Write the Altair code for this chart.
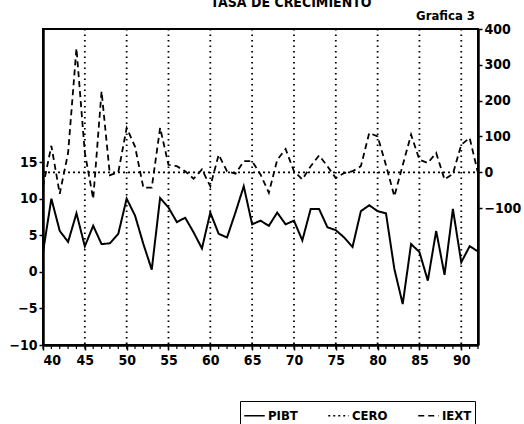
import altair as alt
import pandas as pd

years = list(range(40, 93))
pibt = [2.7, 10.0, 5.6, 4.1, 8.0, 3.5, 6.3, 3.8, 3.9, 5.2,
        10.0, 7.7, 3.8, 0.3, 10.1, 8.8, 6.8, 7.4, 5.4, 3.2,
        8.1, 5.2, 4.7, 8.1, 11.7, 6.5, 7.0, 6.3, 8.1, 6.5,
        7.0, 4.3, 8.6, 8.6, 6.1, 5.7, 4.7, 3.4, 8.3, 9.1,
        8.3, 8.0, 0.4, -4.4, 3.8, 2.7, -1.2, 5.6, -0.4, 8.6,
        1.3, 3.5, 2.8]
iext = [-40, 74, -60, 54, 346, 55, -74, 226, -8, 0,
        124, 72, -43, -43, 124, 21, 17, 3, -18, 8,
        -39, 49, 3, -4, 31, 31, -6, -57, 35, 65,
        3, -20, 17, 47, 17, -16, -2, 3, 17, 110,
        100, 20, -67, 20, 105, 35, 26, 54, -20, -4,
        77, 96, -2]
cero_years = [40, 92]
cero_vals = [0, 0]
grid_years = [45, 50, 55, 60, 65, 70, 75, 80, 85, 90]
x_labels = [40, 45, 50, 55, 60, 65, 70, 75, 80, 85, 90]
left_ticks = [-10, -5, 0, 5, 10, 15]
right_ticks = [-100, 0, 100, 200, 300, 400]
series = ["PIBT", "CERO", "IEXT"]
title_text = "TASA DE CRECIMIENTO"
subtitle_text = "Grafica 3"

FONT = "DejaVu Sans Condensed"

df_p = pd.DataFrame({"year": years, "value": pibt, "serie": "PIBT"})
df_r = pd.concat([
    pd.DataFrame({"year": years, "value": iext, "serie": "IEXT"}),
    pd.DataFrame({"year": cero_years, "value": cero_vals, "serie": "CERO"}),
])
df_grid = pd.DataFrame({"year": grid_years})
df_minor = pd.DataFrame({"year": years})

xscale = alt.Scale(domain=[40, 92], nice=False, zero=False)

xenc = alt.X(
    "year:Q",
    scale=xscale,
    axis=alt.Axis(values=x_labels, labelOverlap=False, tickSize=5, tickWidth=1.5,
                  tickColor="black", domainColor="black", domainWidth=2.5,
                  labelFontSize=14, labelFontWeight="bold", labelFont=FONT,
                  labelColor="black", labelPadding=3, grid=False),
    title=None,
)

dash = alt.StrokeDash(
    "serie:N",
    scale=alt.Scale(domain=series, range=[[1, 0], [2, 3], [6, 4]]),
    legend=alt.Legend(
        orient="none", legendX=197, legendY=372, direction="horizontal",
        title=None, strokeColor="black", padding=3, symbolType="stroke",
        symbolStrokeWidth=1.6, symbolStrokeColor="black", symbolSize=420,
        labelFontSize=13, labelFontWeight="bold", labelFont=FONT,
        labelColor="black", columnPadding=27, symbolOffset=0, labelOffset=2,
    ),
)

grid = alt.Chart(df_grid).mark_rule(
    color="black", strokeDash=[1.5, 4], strokeWidth=1.8
).encode(x=xenc)

minor = alt.Chart(df_minor).mark_rule(color="black", strokeWidth=1.2).encode(
    x=xenc,
    y=alt.value(317), y2=alt.value(320),
)

left_line = alt.Chart(df_p).mark_line(color="black", strokeWidth=2).encode(
    x=xenc,
    y=alt.Y("value:Q",
            scale=alt.Scale(domain=[-10, 33.2], nice=False, zero=False),
            axis=alt.Axis(values=left_ticks, orient="left", tickSize=4, tickWidth=1.5,
                          tickColor="black", domainColor="black", domainWidth=2.5,
                          labelFontSize=14, labelFontWeight="bold", labelFont=FONT,
                          labelColor="black", labelPadding=2, grid=False),
            title=None),
    strokeDash=dash,
)

right_line = alt.Chart(df_r).mark_line(color="black", strokeWidth=1.8).encode(
    x=xenc,
    y=alt.Y("value:Q",
            scale=alt.Scale(domain=[-482, 400], nice=False, zero=False),
            axis=alt.Axis(values=right_ticks, orient="right", tickSize=4, tickWidth=1.5,
                          tickColor="black", domainColor="black", domainWidth=2.5,
                          labelFontSize=14, labelFontWeight="bold", labelFont=FONT,
                          labelColor="black", labelPadding=2, grid=False),
            title=None),
    strokeDash=dash,
)

title_mark = alt.Chart(pd.DataFrame({"t": [title_text]})).mark_text(
    font=FONT, fontSize=14, fontWeight="bold", color="black", align="center",
    baseline="alphabetic"
).encode(text="t:N", x=alt.value(248), y=alt.value(-22))

sub_mark = alt.Chart(pd.DataFrame({"t": [subtitle_text]})).mark_text(
    font=FONT, fontSize=13, fontWeight="bold", color="black", align="right",
    baseline="alphabetic"
).encode(text="t:N", x=alt.value(432), y=alt.value(-9))

chart = alt.layer(left_line, grid, minor, right_line, title_mark, sub_mark).resolve_scale(
    y="independent"
).properties(
    width=435, height=316,
    autosize=alt.AutoSizeParams(type="none"),
    padding={"left": 43, "top": 29, "right": 46, "bottom": 79},
    background="white",
).configure_view(stroke="black", strokeWidth=2)

chart.save("out.html", embed_options={"renderer": "svg", "actions": False})
